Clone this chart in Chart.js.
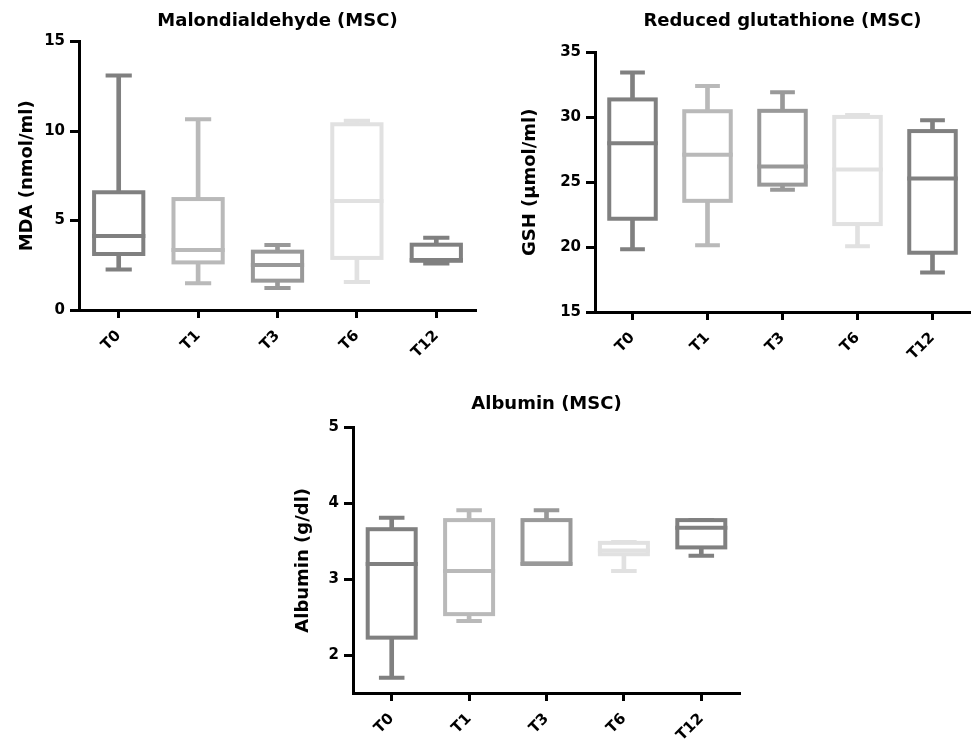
<!DOCTYPE html>
<html>
<head>
<meta charset="utf-8">
<script src="https://cdn.jsdelivr.net/npm/chart.js@4.4.1/dist/chart.umd.min.js"></script>
<style>
  body { margin: 0; background: #fff; }
  canvas { position: absolute; }
</style>
</head>
<body>
<canvas id="mda" width="490" height="375" style="left:0;top:0"></canvas>
<canvas id="gsh" width="474" height="375" style="left:500px;top:0"></canvas>
<canvas id="alb" width="490" height="359" style="left:260px;top:380px"></canvas>
<script>
const categories = ["T0", "T1", "T3", "T6", "T12"];
const boxColors = ["#808080", "#b9b9b9", "#999999", "#e1e1e1", "#808080"];

// Malondialdehyde, nmol/ml
const mdaMin = [2.27, 1.49, 1.23, 1.57, 2.6];
const mdaQ1 = [3.13, 2.66, 1.64, 2.91, 2.75];
const mdaMedian = [4.14, 3.35, 2.52, 6.09, 2.8];
const mdaQ3 = [6.58, 6.2, 3.26, 10.38, 3.65];
const mdaMax = [13.1, 10.66, 3.63, 10.58, 4.04];
const mdaTicks = [0, 5, 10, 15];

// Reduced glutathione, umol/ml
const gshMin = [19.83, 20.14, 24.43, 20.06, 18.04];
const gshQ1 = [22.19, 23.57, 24.82, 21.78, 19.57];
const gshMedian = [28.01, 27.13, 26.22, 25.99, 25.29];
const gshQ3 = [31.39, 30.48, 30.51, 30.04, 28.95];
const gshMax = [33.47, 32.43, 31.94, 30.19, 29.78];
const gshTicks = [15, 20, 25, 30, 35];

// Albumin, g/dl
const albMin = [1.7, 2.45, 3.2, 3.11, 3.31];
const albQ1 = [2.23, 2.54, 3.21, 3.33, 3.42];
const albMedian = [3.2, 3.11, 3.2, 3.38, 3.68];
const albQ3 = [3.66, 3.78, 3.78, 3.48, 3.78];
const albMax = [3.81, 3.91, 3.91, 3.49, 3.78];
const albTicks = [2, 3, 4, 5];

Chart.defaults.font.family = "'DejaVu Sans', sans-serif";
Chart.defaults.font.weight = "bold";
Chart.defaults.color = "#000";

// whiskers come from the bar dataset, boxes/caps/medians are drawn here
function boxPlugin(s) {
  return {
    id: "boxes",
    afterDatasetsDraw(chart) {
      const x = chart.scales.x, y = chart.scales.y, ctx = chart.ctx;
      const step = x.getPixelForValue(1) - x.getPixelForValue(0);
      const half = step * 0.31, capHalf = step * 0.165;
      ctx.save();
      ctx.lineWidth = 4;
      categories.forEach((c, i) => {
        const cx = x.getPixelForValue(i);
        const yMin = y.getPixelForValue(s.min[i]);
        const yMax = y.getPixelForValue(s.max[i]);
        const yQ1 = y.getPixelForValue(s.q1[i]);
        const yQ3 = y.getPixelForValue(s.q3[i]);
        const yMed = y.getPixelForValue(s.median[i]);
        ctx.strokeStyle = boxColors[i];
        ctx.beginPath();
        ctx.moveTo(cx - capHalf, yMax); ctx.lineTo(cx + capHalf, yMax);
        ctx.moveTo(cx - capHalf, yMin); ctx.lineTo(cx + capHalf, yMin);
        ctx.stroke();
        ctx.fillStyle = "#fff";
        ctx.fillRect(cx - half, yQ3, 2 * half, yQ1 - yQ3);
        ctx.strokeRect(cx - half, yQ3, 2 * half, yQ1 - yQ3);
        ctx.beginPath();
        ctx.moveTo(cx - half - 2, yMed); ctx.lineTo(cx + half + 2, yMed);
        ctx.stroke();
      });
      ctx.restore();
    }
  };
}

function makeBoxChart(id, o) {
  const s = o.stats;
  return new Chart(document.getElementById(id), {
    type: "bar",
    data: {
      labels: categories,
      datasets: [{
        data: categories.map((c, i) => [s.min[i], s.max[i]]),
        backgroundColor: boxColors,
        borderWidth: 0,
        barThickness: 4
      }]
    },
    options: {
      responsive: false,
      animation: false,
      devicePixelRatio: 1,
      layout: { padding: { left: 0, right: o.rightPad, top: 0, bottom: 0 } },
      plugins: {
        legend: { display: false },
        tooltip: { enabled: false },
        title: {
          display: true, text: o.title, fullSize: false,
          font: { size: 18, weight: "bold" }, color: "#000",
          padding: { top: o.titleTop, bottom: o.titleBottom }
        }
      },
      scales: {
        x: {
          offset: true,
          grid: { drawOnChartArea: false, offset: false, tickLength: 8, tickWidth: 3, tickColor: "#000" },
          border: { display: true, color: "#000", width: 3 },
          ticks: { color: "#000", font: { size: 15, weight: "bold" }, minRotation: 45, maxRotation: 45, padding: 9, autoSkip: false },
          afterFit: sc => { sc.height = o.xHeight; }
        },
        y: {
          min: o.min, max: o.max,
          afterBuildTicks: sc => { sc.ticks = o.ticks.map(v => ({ value: v })); },
          grid: { drawOnChartArea: false, tickLength: 9, tickWidth: 3, tickColor: "#000" },
          border: { display: true, color: "#000", width: 3 },
          ticks: { color: "#000", font: { size: 15, weight: "bold" }, padding: 5 },
          title: {
            display: true, text: o.yTitle, color: "#000",
            font: { size: 18, weight: "bold" },
            padding: { top: o.yTitlePad, bottom: 0 }
          },
          afterFit: sc => { sc.width = o.yWidth; }
        }
      }
    },
    plugins: [boxPlugin(s)]
  });
}

makeBoxChart("mda", {
  title: "Malondialdehyde (MSC)", yTitle: "MDA (nmol/ml)",
  min: 0, max: 15, ticks: mdaTicks,
  stats: { min: mdaMin, q1: mdaQ1, median: mdaMedian, q3: mdaQ3, max: mdaMax },
  yWidth: 79, xHeight: 65, rightPad: 14, titleTop: 11, titleBottom: 9, yTitlePad: 17
});

makeBoxChart("gsh", {
  title: "Reduced glutathione (MSC)", yTitle: "GSH (µmol/ml)",
  min: 15, max: 35, ticks: gshTicks,
  stats: { min: gshMin, q1: gshQ1, median: gshMedian, q3: gshQ3, max: gshMax },
  yWidth: 95, xHeight: 63, rightPad: 4, titleTop: 11, titleBottom: 20, yTitlePad: 20
});

makeBoxChart("alb", {
  title: "Albumin (MSC)", yTitle: "Albumin (g/dl)",
  min: 1.5, max: 5, ticks: albTicks,
  stats: { min: albMin, q1: albQ1, median: albMedian, q3: albQ3, max: albMax },
  yWidth: 93, xHeight: 46, rightPad: 10, titleTop: 14, titleBottom: 12, yTitlePad: 33
});
</script>
</body>
</html>
